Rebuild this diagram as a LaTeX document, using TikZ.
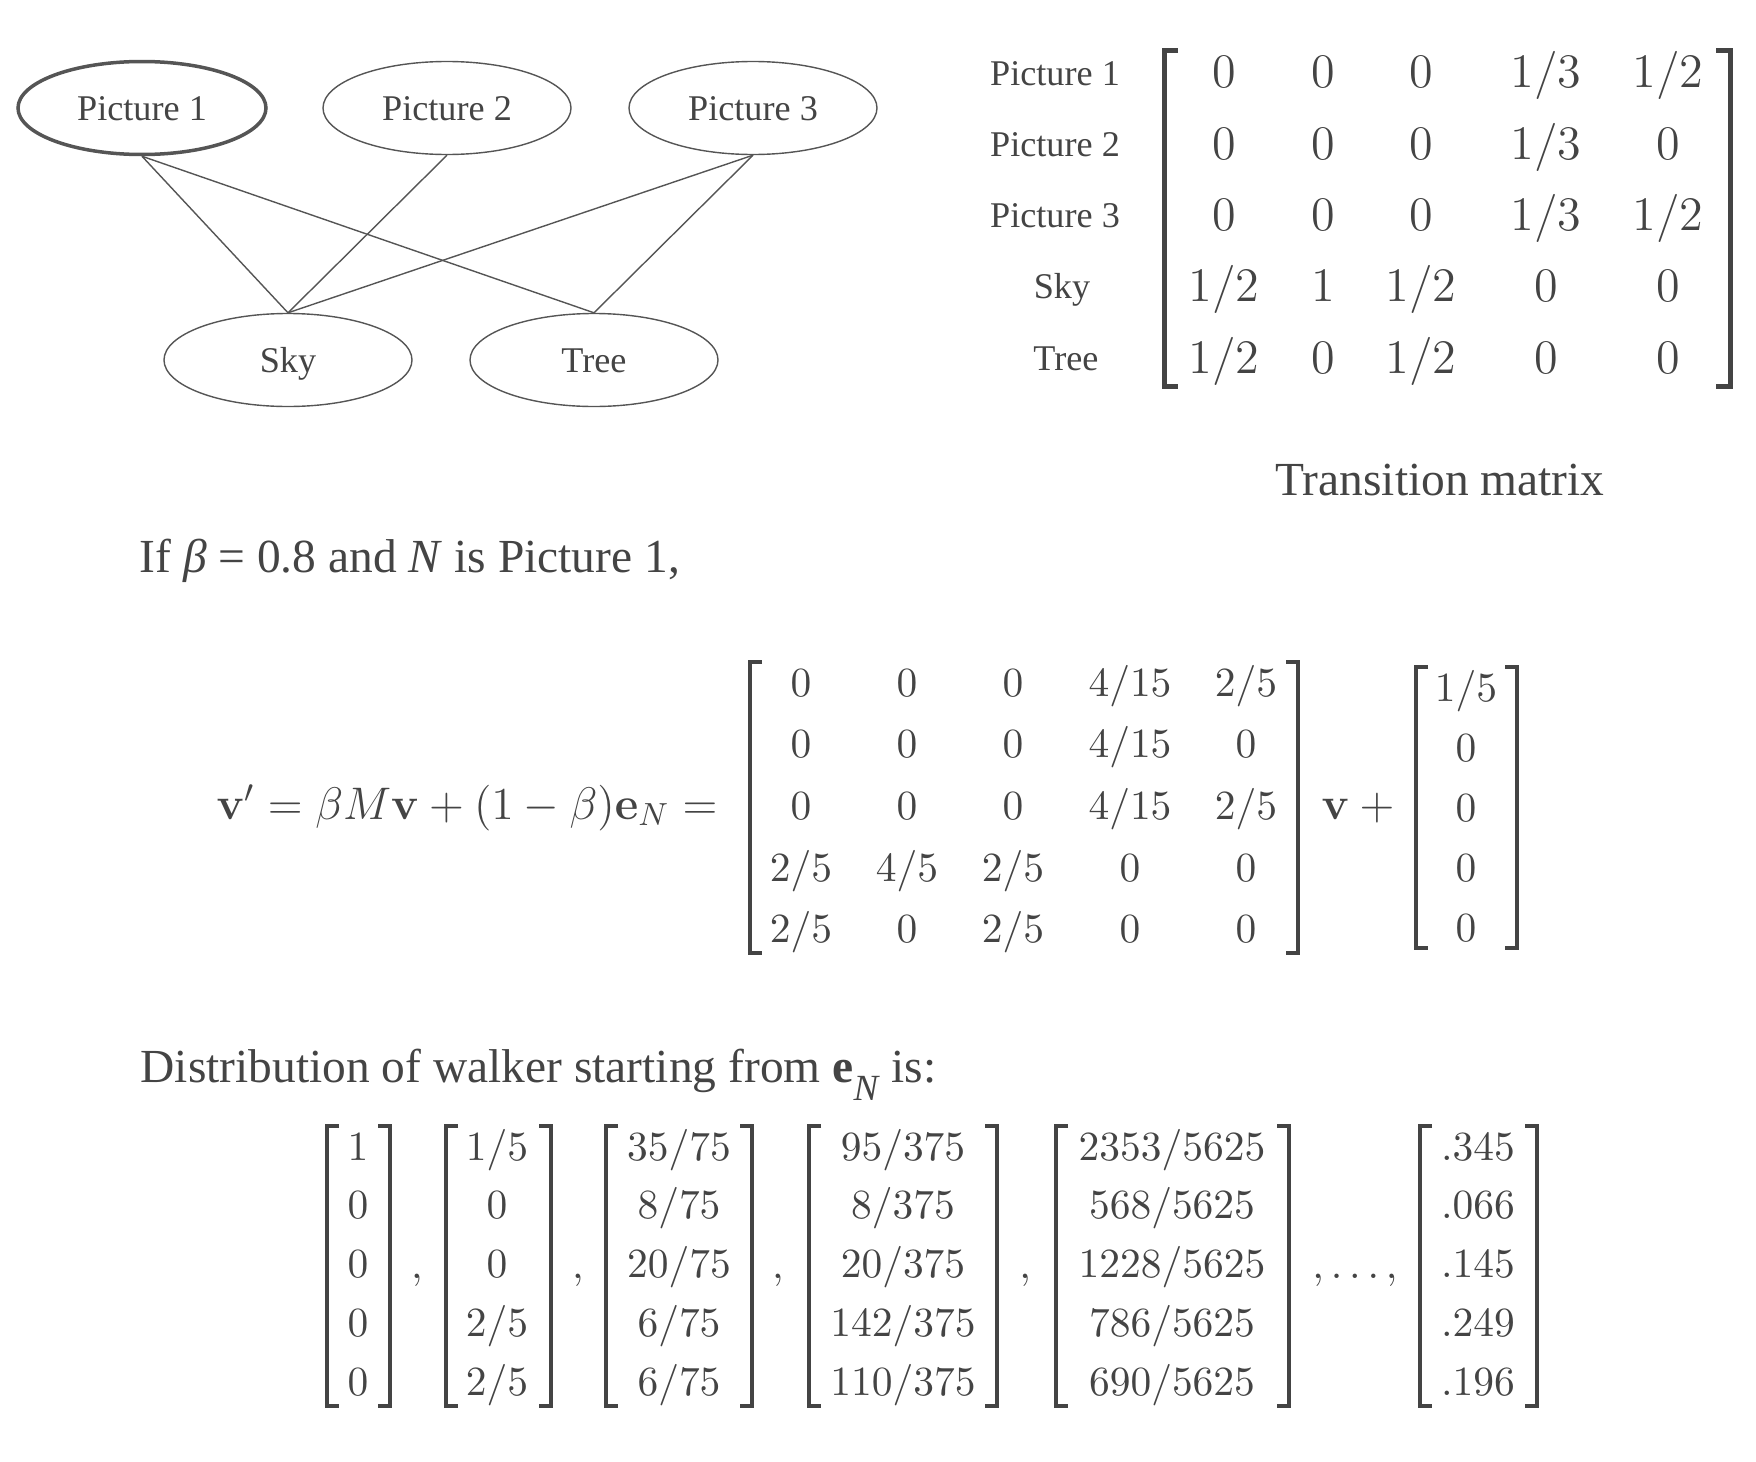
\RequirePackage{fix-cm}
\documentclass[tikz,border=0pt]{standalone}
\usepackage{amsmath,amssymb}
\usepackage[no-math]{fontspec}
\setmainfont{Liberation Serif}
\usepackage{tikz}
\usetikzlibrary{shapes.geometric}

\definecolor{ink}{HTML}{444444}
\definecolor{wire}{HTML}{555555}

\tikzset{
  picnode/.style={ellipse, draw=wire, line width=0.14mm, minimum width=24.8mm,
    minimum height=9.3mm, inner sep=0pt, text height=2.4mm, text depth=0pt,
    font=\fontsize{10.3pt}{12pt}\selectfont},
  link/.style={draw=wire, line width=0.14mm},
  brk/.style={draw=ink, line width=0.4mm},
  entry/.style={anchor=base, inner sep=0pt},
  bigtxt/.style={font=\fontsize{13.5pt}{16pt}\selectfont},
  toptxt/.style={font=\fontsize{13.7pt}{16pt}\selectfont},
  eqtxt/.style={font=\fontsize{13pt}{16pt}\selectfont},
  vectxt/.style={font=\fontsize{11.8pt}{14pt}\selectfont},
}

\begin{document}
\begin{tikzpicture}[x=0.1mm, y=-0.1mm, color=ink]
\useasboundingbox (0,0) rectangle (1756,1462);

% graph of pictures and tags
\node[picnode, line width=0.35mm] (p1) at (142,108) {Picture 1};
\node[picnode] (p2) at (447,108) {Picture 2};
\node[picnode] (p3) at (753,108) {Picture 3};
\node[picnode] (sky) at (288,360) {Sky};
\node[picnode] (tree) at (594,360) {Tree};
\foreach \a/\b in {p1/sky,p1/tree,p2/sky,p3/sky,p3/tree}
  \draw[link] (\a.south) -- (\b.north);

% transition matrix
\foreach \lab/\lx [count=\r] in {Picture 1/1055,Picture 2/1055,Picture 3/1055,Sky/1062,Tree/1066}
  \node[entry, font=\fontsize{10.3pt}{12pt}\selectfont] (lab-\r) at (\lx,{85+71.3*(\r-1)}) {\lab};
\foreach \row [count=\r] in {{0,0,0,1/3,1/2},{0,0,0,1/3,0},{0,0,0,1/3,1/2},{1/2,1,1/2,0,0},{1/2,0,1/2,0,0}}
  \foreach \e [count=\c] in \row {
    \pgfmathsetmacro\cx{{1224,1323,1421,1546,1668}[\c-1]}
    \node[entry, toptxt] (tm-\r-\c) at (\cx,{88+71.3*(\r-1)}) {$\e$};
  }
\draw[brk, line width=0.5mm] (1178,50) -- (1164,50) -- (1164,386) -- (1178,386);
\draw[brk, line width=0.5mm] (1716,50) -- (1730,50) -- (1730,386) -- (1716,386);
\node[entry, bigtxt] (caption) at (1440,495) {Transition matrix};

\node[anchor=base west, inner sep=0pt, bigtxt] (cond) at (139,572) {If \textit{β} = 0.8 and \textit{N} is Picture 1,};

% teleporting walk
\node[anchor=base east, inner sep=0pt, eqtxt] (eq) at (718,819)
  {$\mathbf{v}' = \beta M\mathbf{v} + (1-\beta)\mathbf{e}_N =$};
\foreach \row [count=\r] in {{0,0,0,4/15,2/5},{0,0,0,4/15,0},{0,0,0,4/15,2/5},{2/5,4/5,2/5,0,0},{2/5,0,2/5,0,0}}
  \foreach \e [count=\c] in \row {
    \pgfmathsetmacro\cx{{801,907,1013,1130,1246}[\c-1]}
    \node[entry, vectxt] (mm-\r-\c) at (\cx,{696+61.7*(\r-1)}) {$\e$};
  }
\draw[brk] (762,662) -- (750,662) -- (750,953) -- (762,953);
\draw[brk] (1286,662) -- (1298,662) -- (1298,953) -- (1286,953);
\node[entry, eqtxt] (vplus) at (1358,819) {$\mathbf{v}\mkern4mu+$};
\foreach \e [count=\r] in {1/5,0,0,0,0}
  \node[entry, vectxt] (tv-\r) at (1466,{701+60.2*(\r-1)}) {$\e$};
\draw[brk] (1428,667) -- (1416,667) -- (1416,948) -- (1428,948);
\draw[brk] (1505,667) -- (1517,667) -- (1517,948) -- (1505,948);

% distributions
\node[anchor=base west, inner sep=0pt, bigtxt] (dist) at (140,1082)
  {Distribution of walker starting from \textbf{e}\raisebox{-1.8mm}{\fontsize{10.5pt}{12pt}\selectfont\textit{N}} is:};
\foreach \vx/\bl/\br/\ents [count=\k] in {358/327/390/{1,0,0,0,0},497/446/551/{1/5,0,0,2/5,2/5},679/606/752/{35/75,8/75,20/75,6/75,6/75},903/809/997/{95/375,8/375,20/375,142/375,110/375},1172/1056/1289/{2353/5625,568/5625,1228/5625,786/5625,690/5625},1478/1420/1537/{.345,.066,.145,.249,.196}} {
  \foreach \e [count=\r] in \ents
    \node[entry, vectxt] (w\k-\r) at (\vx,{1160+58.75*(\r-1)}) {$\e$};
  \draw[brk] (\bl+12,1126) -- (\bl,1126) -- (\bl,1406) -- (\bl+12,1406);
  \draw[brk] (\br-12,1126) -- (\br,1126) -- (\br,1406) -- (\br-12,1406);
}
\foreach \cx [count=\k] in {417,578,778,1025}
  \node[entry, vectxt] (comma-\k) at (\cx,1278) {$,$};
\node[entry, vectxt] (dots) at (1355,1278) {$,\ldots,$};
\end{tikzpicture}
\end{document}
